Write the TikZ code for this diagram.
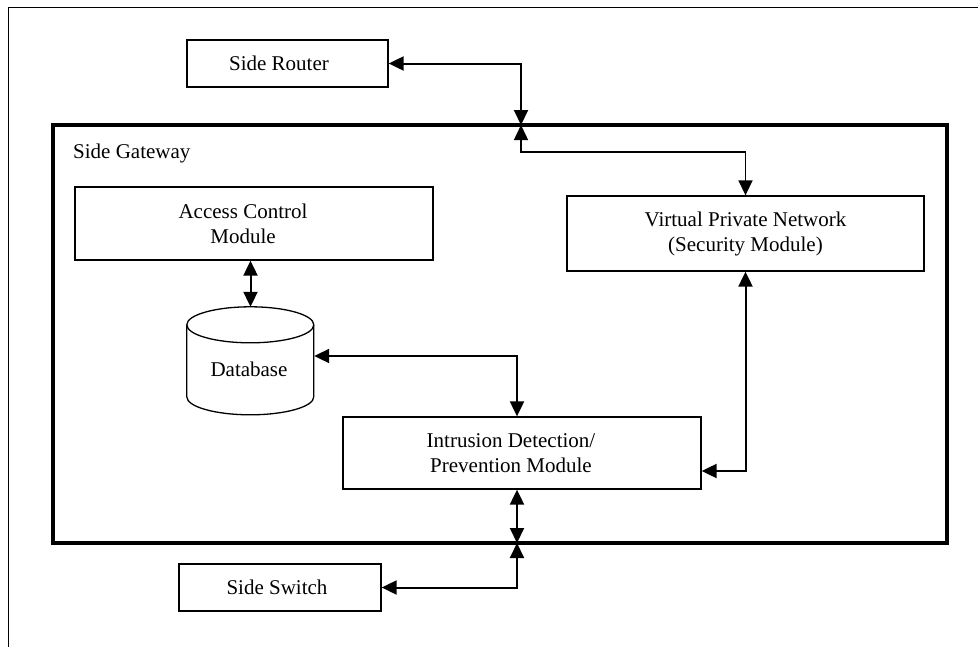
\documentclass[tikz,border=0pt]{standalone}
\usepackage{fontspec}
\setmainfont{Liberation Serif}
\usetikzlibrary{arrows.meta}
\begin{document}
\begin{tikzpicture}[x=1pt,y=-1pt,
  every node/.style={font=\fontsize{21}{25}\selectfont},
  box/.style={draw, line width=1.3pt, inner sep=0pt, align=center},
  lbl/.style={inner sep=0pt, align=center},
  conn/.style={line width=2pt, {Triangle[length=15pt,width=14pt]}-{Triangle[length=15pt,width=14pt]}},
  thinconn/.style={line width=1.5pt, {Triangle[length=15pt,width=14pt]}-{Triangle[length=15pt,width=14pt]}}]
\clip (0,0) rectangle (978,646);
\fill[white] (0,0) rectangle (978,646);
% outer frame (open at right and bottom)
\draw[line width=1.3pt] (8.5,660) -- (8.5,7.5) -- (990,7.5);
% gateway
\draw[line width=4pt] (53,125) rectangle (947,543);
\node[anchor=west, inner sep=0pt] (gwlabel) at (73,153) {Side Gateway};
\coordinate (gt) at (521,125);
\coordinate (gb) at (517,543);
% nodes
\node[box, minimum width=201pt, minimum height=47pt] (router) at (287.5,63.5) {};
\node[lbl] (routertext) at (279,63.5) {Side Router};
\node[box, minimum width=202pt, minimum height=47pt] (switch) at (280,587.5) {};
\node[lbl] (switchtext) at (277,587.5) {Side Switch};
\node[box, minimum width=358pt, minimum height=73pt] (acm) at (254,223.5) {};
\node[lbl] (acmtext) at (243,223.5) {Access Control\\Module};
\node[box, minimum width=357pt, minimum height=75pt] (vpn) at (745.5,233.5) {Virtual Private Network\\(Security Module)};
\node[box, minimum width=358pt, minimum height=72pt] (ids) at (522,453) {};
\node[lbl] (idstext) at (511,453) {Intrusion Detection/\\Prevention Module};
% database cylinder
\node[minimum width=127pt, minimum height=108pt, inner sep=0pt] (db) at (250.5,361) {};
\draw[line width=1.3pt, fill=white] (db.north west) ++(0,18) -- ++(0,72) arc[start angle=180, end angle=360, x radius=63.5, y radius=-18] -- ++(0,-72);
\draw[line width=1.3pt] (db.north west) ++(0,18) arc[start angle=180, end angle=-180, x radius=63.5, y radius=18];
\node[inner sep=0pt] (dbtext) at (249,369) {Database};
% connectors
\draw[conn] (router.east) -| (gt);
\draw[thinconn] (gt) -- ++(0,27) -| (vpn.north);
\draw[conn] (acm.south -| db.north) -- (db.north);
\draw[conn] ([yshift=5pt]db.east) -| ([xshift=-5pt]ids.north);
\draw[conn] ([yshift=-18pt]ids.east) -| (vpn.south);
\draw[conn] ([xshift=-5pt]ids.south) -- (gb);
\draw[conn] (gb) |- (switch.east);
\end{tikzpicture}
\end{document}
